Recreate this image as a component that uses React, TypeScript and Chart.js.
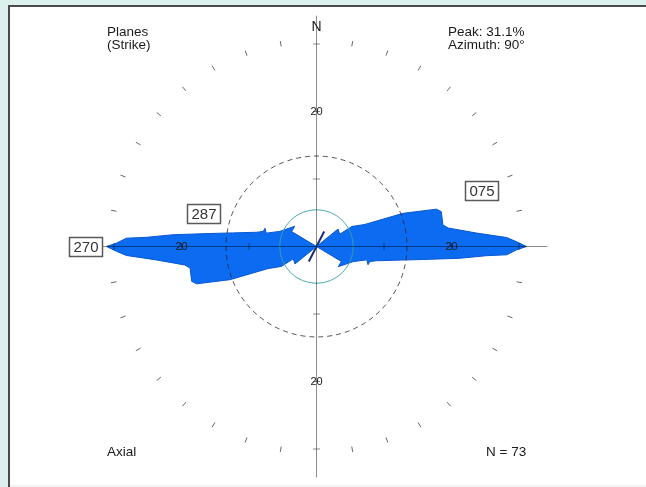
import React, { useEffect, useRef } from "react";
import { Chart, registerables } from "chart.js";

Chart.register(...registerables);

// East lobe of the axial strike rose (azimuth in degrees clockwise from N,
// length in percent), traced from the centre out along the northern edge,
// round the tip and back along the southern edge. The west lobe is the
// same outline turned through 180 degrees.
const roseAzimuth = [
  51, 62, 60.5, 65.5, 69, 72.7, 74.4, 80.3, 82, 85.2, 87.3, 88.6, 90,
  91, 92.5, 93.1, 94.7, 96.9, 99.2, 103.4, 105.8, 109.5, 104.9, 112.3, 132.8, 121,
];
const rosePercent = [
  4.1, 3.9, 6.0, 7.9, 13.7, 18.6, 19.2, 19.0, 19.7, 23.8, 28.2, 29.6, 31.1,
  29.6, 28.2, 25.2, 21.3, 16.0, 12.6, 9.1, 8.2, 8.1, 7.7, 5.9, 4.4, 4.3,
];

// Resultant (mean) direction, drawn through the centre
const meanAzimuth = 27;
const meanLength = 2.5;

const axisTickPercents = [10, 20, 30];
const axisLabelPercents = [20];
const directionLabels = ["270", "287", "075"];
const sampleCount = 73;
const dashedRingPercent = 13.4;
const innerRingPercent = 5.45;

// Layout
const WIDTH = 646;
const HEIGHT = 487;
const CX = 316.5;
const CY = 246.5;
const PX_PER_PERCENT = 6.75;
const AXIS_REACH = 34.2;
const RING_MARK_FROM = 30.1;
const RING_MARK_TO = 30.9;
const NORTH_LABEL_AT = 32.5;
const labelSpots = [
  { az: 270, r: 34.15 },
  { az: 286.3, r: 17.4 },
  { az: 71.3, r: 25.8 },
];
const FONT = '"Liberation Sans", Arial, Helvetica, sans-serif';

const peakIndex = rosePercent.indexOf(Math.max(...rosePercent));
const peakPercent = rosePercent[peakIndex];
const peakAzimuth = roseAzimuth[peakIndex];

const rad = (d: number) => (d * Math.PI) / 180;
const polar = (az: number, pct: number) => ({
  x: pct * Math.sin(rad(az)),
  y: pct * Math.cos(rad(az)),
});

function buildOutline() {
  const origin = { x: 0, y: 0 };
  const east = roseAzimuth.map((az, i) => polar(az, rosePercent[i]));
  const west = roseAzimuth.map((az, i) => polar(az + 180, rosePercent[i]));
  return [origin, ...east, origin, ...west, origin];
}

const roseFrame = {
  id: "roseFrame",
  beforeDraw(chart: any) {
    const ctx = chart.ctx as CanvasRenderingContext2D;
    ctx.save();
    ctx.fillStyle = "#dcf0ee";
    ctx.fillRect(0, 0, WIDTH, HEIGHT);
    ctx.fillStyle = "#ffffff";
    ctx.fillRect(10, 7, WIDTH - 10, 478);
    ctx.fillStyle = "#f3f3f3";
    ctx.fillRect(10, 485, WIDTH - 10, 2);
    ctx.fillStyle = "#4a4a4a";
    ctx.fillRect(8, 5, WIDTH - 8, 2);
    ctx.fillRect(8, 5, 2, HEIGHT - 5);
    ctx.restore();
  },
  afterDatasetsDraw(chart: any) {
    const ctx = chart.ctx as CanvasRenderingContext2D;
    const xs = chart.scales.x;
    const ys = chart.scales.y;
    const P = (az: number, pct: number) => {
      const p = polar(az, pct);
      return { x: xs.getPixelForValue(p.x), y: ys.getPixelForValue(p.y) };
    };
    const R = (pct: number) =>
      Math.abs(xs.getPixelForValue(pct) - xs.getPixelForValue(0));
    const o = P(0, 0);
    const axes = [0, 90, 180, 270];

    ctx.save();

    // reference rings
    ctx.lineWidth = 1;
    ctx.setLineDash([5, 4]);
    ctx.strokeStyle = "rgba(30,30,30,0.75)";
    ctx.beginPath();
    ctx.arc(o.x, o.y, R(dashedRingPercent), 0, Math.PI * 2);
    ctx.stroke();
    ctx.setLineDash([]);
    ctx.strokeStyle = "rgba(60,160,165,0.9)";
    ctx.beginPath();
    ctx.arc(o.x, o.y, R(innerRingPercent), 0, Math.PI * 2);
    ctx.stroke();

    // N-S and E-W axes with their ticks
    ctx.strokeStyle = "rgba(0,0,0,0.45)";
    ctx.beginPath();
    for (const az of axes) {
      const e = P(az, AXIS_REACH);
      ctx.moveTo(o.x, o.y);
      ctx.lineTo(e.x, e.y);
      const px = Math.cos(rad(az));
      const py = Math.sin(rad(az));
      for (const t of axisTickPercents) {
        const p = P(az, t);
        ctx.moveTo(p.x - 3.5 * px, p.y - 3.5 * py);
        ctx.lineTo(p.x + 3.5 * px, p.y + 3.5 * py);
      }
    }
    ctx.stroke();

    // outer ring of 10-degree marks
    ctx.strokeStyle = "rgba(0,0,0,0.6)";
    ctx.beginPath();
    for (let az = 10; az < 360; az += 10) {
      if (az % 90 === 0) continue;
      const a = P(az, RING_MARK_FROM);
      const b = P(az, RING_MARK_TO);
      ctx.moveTo(a.x, a.y);
      ctx.lineTo(b.x, b.y);
    }
    ctx.stroke();

    // axis values
    ctx.fillStyle = "#1a1a1a";
    ctx.textAlign = "center";
    ctx.textBaseline = "middle";
    ctx.font = `11px ${FONT}`;
    for (const az of axes) {
      for (const v of axisLabelPercents) {
        const p = P(az, v);
        ctx.fillText(String(v), p.x, p.y + 0.5);
      }
    }
    ctx.font = `14px ${FONT}`;
    const n = P(0, NORTH_LABEL_AT);
    ctx.fillText("N", n.x, n.y);

    // corner notes
    ctx.textAlign = "left";
    ctx.font = `13.5px ${FONT}`;
    ctx.fillText("Planes", 107, 32);
    ctx.fillText("(Strike)", 107, 45);
    ctx.fillText(`Peak: ${peakPercent.toFixed(1)}%`, 448, 32);
    ctx.fillText(`Azimuth: ${Math.round(peakAzimuth)}°`, 448, 45);
    ctx.fillText("Axial", 107, 452);
    ctx.fillText(`N = ${sampleCount}`, 486, 452);

    // boxed direction labels
    ctx.font = `15px ${FONT}`;
    ctx.textAlign = "center";
    directionLabels.forEach((txt, i) => {
      const p = P(labelSpots[i].az, labelSpots[i].r);
      const w = Math.round(ctx.measureText(txt).width + 8);
      const h = 19;
      const bx = Math.round(p.x - w / 2) + 0.5;
      const by = Math.round(p.y - h / 2) + 0.5;
      ctx.fillStyle = "#ffffff";
      ctx.fillRect(bx, by, w, h);
      ctx.lineWidth = 1.5;
      ctx.strokeStyle = "#5a5a5a";
      ctx.strokeRect(bx, by, w, h);
      ctx.fillStyle = "#333333";
      ctx.fillText(txt, bx + w / 2, by + h / 2 + 0.5);
    });

    ctx.restore();
  },
};

export default function App() {
  const canvasRef = useRef<HTMLCanvasElement | null>(null);

  useEffect(() => {
    document.body.style.margin = "0";
    const canvas = canvasRef.current;
    if (!canvas) return;
    const chart = new Chart(canvas, {
      type: "scatter",
      data: {
        datasets: [
          {
            label: "Strike rose",
            data: buildOutline(),
            showLine: true,
            fill: "shape",
            backgroundColor: "#0b6cf2",
            borderColor: "#0a58d0",
            borderWidth: 1,
            pointRadius: 0,
            tension: 0,
          },
          {
            label: "Mean direction",
            data: [
              polar(meanAzimuth, meanLength),
              polar(meanAzimuth + 180, meanLength),
            ],
            showLine: true,
            fill: false,
            borderColor: "#1c2d78",
            borderWidth: 2,
            pointRadius: 0,
          },
        ],
      },
      options: {
        animation: false,
        responsive: false,
        devicePixelRatio: 1,
        events: [],
        layout: { padding: 0 },
        plugins: {
          legend: { display: false },
          tooltip: { enabled: false },
        },
        scales: {
          x: {
            type: "linear",
            display: false,
            min: -CX / PX_PER_PERCENT,
            max: (WIDTH - CX) / PX_PER_PERCENT,
          },
          y: {
            type: "linear",
            display: false,
            min: -(HEIGHT - CY) / PX_PER_PERCENT,
            max: CY / PX_PER_PERCENT,
          },
        },
      },
      plugins: [roseFrame],
    });
    return () => chart.destroy();
  }, []);

  return (
    <div style={{ width: WIDTH, height: HEIGHT }}>
      <canvas
        ref={canvasRef}
        width={WIDTH}
        height={HEIGHT}
        style={{ display: "block" }}
      />
    </div>
  );
}
